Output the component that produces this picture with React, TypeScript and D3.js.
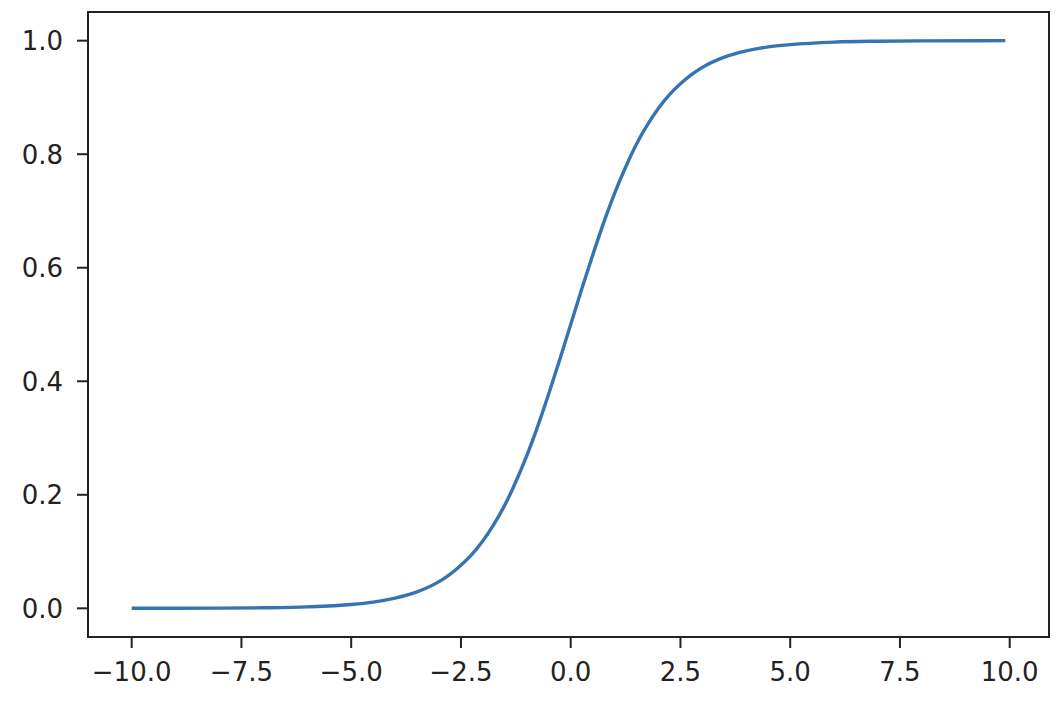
import React from "react";
import * as d3 from "d3";

const xValues = [-10, -8, -7, -6, -5, -4.5, -4, -3.5, -3, -2.75, -2.5, -2.25, -2, -1.75, -1.5, -1.25, -1, -0.75, -0.5, -0.25, 0, 0.25, 0.5, 0.75, 1, 1.25, 1.5, 1.75, 2, 2.25, 2.5, 2.75, 3, 3.5, 4, 4.5, 5, 6, 7, 8, 9.9];
const yValues = [0.00005, 0.0003, 0.0009, 0.0025, 0.0067, 0.011, 0.018, 0.029, 0.047, 0.060, 0.076, 0.095, 0.119, 0.148, 0.182, 0.223, 0.269, 0.321, 0.378, 0.438, 0.5, 0.562, 0.622, 0.679, 0.731, 0.777, 0.818, 0.852, 0.881, 0.905, 0.924, 0.940, 0.953, 0.971, 0.982, 0.989, 0.993, 0.9975, 0.9991, 0.9997, 1.0];
const xTicks = [-10, -7.5, -5, -2.5, 0, 2.5, 5, 7.5, 10];
const yTicks = [0, 0.2, 0.4, 0.6, 0.8, 1.0];

const W = 1062, H = 704;
const left = 88, right = 1049, top = 12, bottom = 637;

export default function App() {
  const x = d3.scaleLinear().domain([-10.995, 10.895]).range([left, right]);
  const y = d3.scaleLinear().domain([-0.0505, 1.0505]).range([bottom, top]);
  const pts = xValues.map((v, i) => [v, yValues[i]] as [number, number]);
  const line = d3.line<[number, number]>().x(d => x(d[0])).y(d => y(d[1])).curve(d3.curveMonotoneX);
  const fmt = (v: number) => d3.format(".1f")(v).replace("-", "\u2212");
  const font = "DejaVu Sans";
  return (
    <svg width={W} height={H} style={{ position: "absolute", left: 0, top: 0, background: "#fff" }}>
      <rect x={0} y={0} width={W} height={H} fill="#fff" />
      <path d={line(pts) || ""} fill="none" stroke="#3574b0" strokeWidth={3.4} strokeLinecap="butt" />
      <rect x={left} y={top} width={right - left} height={bottom - top} fill="none" stroke="#222" strokeWidth={2} />
      {xTicks.map(t => (
        <g key={"x" + t}>
          <line x1={x(t)} x2={x(t)} y1={bottom} y2={bottom + 11} stroke="#222" strokeWidth={2} />
          <text x={x(t)} y={681} textAnchor="middle" fontFamily={font} fontSize={26} fill="#222">{fmt(t)}</text>
        </g>
      ))}
      {yTicks.map(t => (
        <g key={"y" + t}>
          <line x1={left - 11} x2={left} y1={y(t)} y2={y(t)} stroke="#222" strokeWidth={2} />
          <text x={63} y={y(t) + 9.5} textAnchor="end" fontFamily={font} fontSize={26} fill="#222">{fmt(t)}</text>
        </g>
      ))}
    </svg>
  );
}
